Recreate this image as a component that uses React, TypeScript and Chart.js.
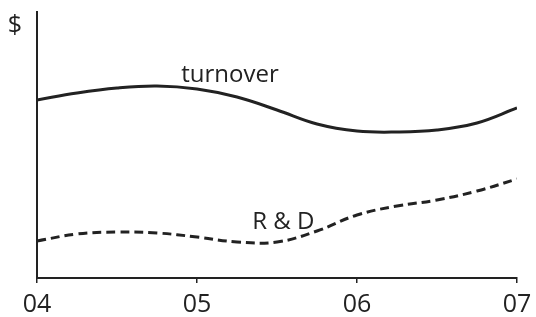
import React, { useEffect, useRef } from "react";
import { Chart, registerables } from "chart.js";

Chart.register(...registerables);

const years = [2004, 2004.25, 2004.5, 2004.75, 2005, 2005.25, 2005.5, 2005.75, 2006, 2006.25, 2006.5, 2006.75, 2007];
const turnover = [178, 185, 190, 192, 189, 181, 168, 154, 147, 146, 148, 155, 170];
const rnd = [37, 44, 46, 45, 41, 36, 36, 47, 63, 72, 78, 87, 99];
const tickLabels = ["04", "05", "06", "07"];
const seriesNames = ["turnover", "R & D"];
const labelPositions = [
  { x: 2005.206, y: 196 },
  { x: 2005.54, y: 49 },
];
const yUnit = "$";

const FONT = "'Open Sans', 'DejaVu Sans', sans-serif";
const INK = "#222";

export default function App() {
  const ref = useRef<HTMLCanvasElement | null>(null);

  useEffect(() => {
    if (!ref.current) return;
    const textPlugin = {
      id: "texts",
      afterDatasetsDraw(chart: any) {
        const { ctx, chartArea, scales } = chart;
        ctx.save();
        ctx.fillStyle = INK;
        ctx.font = `24px ${FONT}`;
        ctx.textAlign = "center";
        ctx.textBaseline = "alphabetic";
        seriesNames.forEach((name, i) => {
          const p = labelPositions[i];
          ctx.fillText(name, scales.x.getPixelForValue(p.x), scales.y.getPixelForValue(p.y));
        });
        ctx.font = `25px ${FONT}`;
        ctx.fillText(yUnit, chartArea.left - 22, chartArea.top + 21);
        ctx.restore();
      },
    };
    const chart = new Chart(ref.current, {
      type: "line",
      data: {
        datasets: [
          {
            label: seriesNames[0],
            data: years.map((x, i) => ({ x, y: turnover[i] })),
            borderColor: INK,
            borderWidth: 3,
            pointRadius: 0,
            tension: 0.4,
            fill: false,
          },
          {
            label: seriesNames[1],
            data: years.map((x, i) => ({ x, y: rnd[i] })),
            borderColor: INK,
            borderWidth: 3,
            borderDash: [9, 5],
            pointRadius: 0,
            tension: 0.4,
            fill: false,
          },
        ],
      },
      options: {
        animation: false,
        responsive: false,
        maintainAspectRatio: false,
        layout: { padding: { left: 29, right: 19, top: 12, bottom: -9 } },
        plugins: { legend: { display: false }, tooltip: { enabled: false } },
        scales: {
          x: {
            type: "linear",
            min: 2004,
            max: 2007,
            grid: { drawOnChartArea: false, drawTicks: true, tickLength: 5, color: INK, lineWidth: 1.5 },
            border: { display: true, color: INK, width: 2 },
            ticks: {
              stepSize: 1,
              padding: 4,
              color: INK,
              font: { family: FONT, size: 25, lineHeight: 1.4 },
              maxRotation: 0,
              callback: (v: any) => tickLabels[Math.round(Number(v) - 2004)] ?? "",
            },
          },
          y: {
            min: 0,
            max: 266,
            grid: { display: false },
            border: { display: true, color: INK, width: 2 },
            ticks: { display: false },
          },
        },
      },
      plugins: [textPlugin],
    });
    return () => chart.destroy();
  }, []);

  return (
    <div style={{ position: "fixed", left: 0, top: 0, width: 536, height: 317, background: "#fff" }}>
      <canvas ref={ref} width={536} height={317} style={{ display: "block" }} />
    </div>
  );
}
